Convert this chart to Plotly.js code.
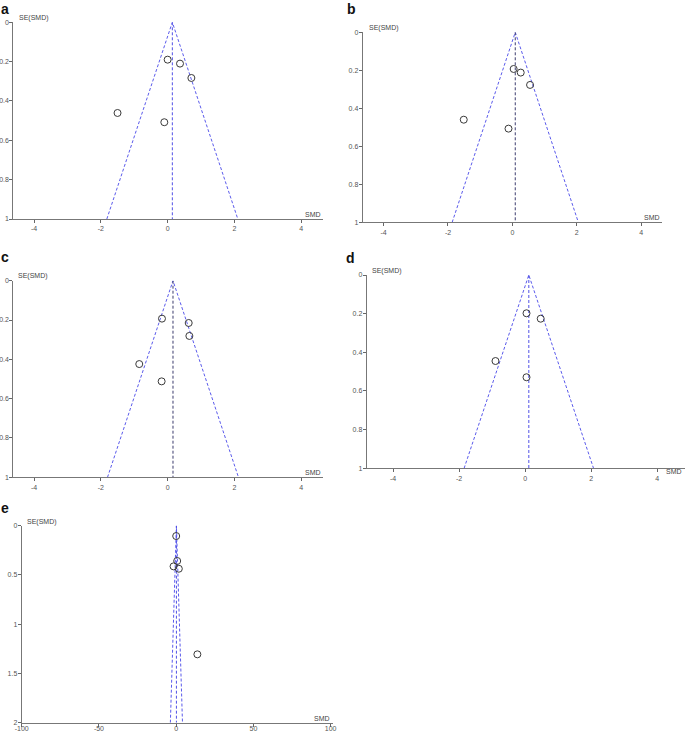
<!DOCTYPE html>
<html><head><meta charset="utf-8">
<script src="https://cdn.plot.ly/plotly-3.0.1.min.js"></script>
<style>html,body{margin:0;padding:0;background:#fff}#chart{width:685px;height:732px}</style>
</head><body><div id="chart"></div>
<script>
// ---- data ----
const panelLetters = ["a", "b", "c", "d", "e"];
const aSMD = [0.00, 0.37, 0.71, -1.50, -0.10];
const aSE  = [0.190, 0.210, 0.283, 0.461, 0.508];
const aCenter = 0.14;
const bSMD = [0.04, 0.26, 0.55, -1.51, -0.12];
const bSE  = [0.193, 0.212, 0.277, 0.460, 0.507];
const bCenter = 0.09;
const cSMD = [-0.17, 0.63, 0.65, -0.85, -0.18];
const cSE  = [0.193, 0.215, 0.281, 0.424, 0.512];
const cCenter = 0.16;
const dSMD = [0.04, 0.47, -0.90, 0.04];
const dSE  = [0.198, 0.226, 0.445, 0.529];
const dCenter = 0.11;
const eSMD = [0.0, 0.64, -1.7, 1.7, 13.7];
const eSE  = [0.105, 0.358, 0.413, 0.437, 1.306];
const eCenter = 0.15;
const seMaxSmall = 1;
const seMaxLarge = 2;
const xTicksSmall = [-4, -2, 0, 2, 4];
const yTicksSmall = [0, 0.2, 0.4, 0.6, 0.8, 1];
const xTicksLarge = [-100, -50, 0, 50, 100];
const yTicksLarge = [0, 0.5, 1, 1.5, 2];
const xLabel = "SMD";
const yLabel = "SE(SMD)";

// ---- layout helpers ----
const W = 685, H = 732;
const px = v => v / W;
const py = v => 1 - v / H;

const panels = [
  {smd: aSMD, se: aSE, c: aCenter, seMax: seMaxSmall, x0: 13.3, x1: 323, y0: 22.3, y1: 219, xr: [-4.62, 4.65], xt: xTicksSmall, yt: yTicksSmall, vcol: "rgb(80,80,230)", letter: [0, 0], ylab: [16.5, 17.5], xlab: [323, 214.5], xso: 0},
  {smd: bSMD, se: bSE, c: bCenter, seMax: seMaxSmall, x0: 362.7, x1: 661.7, y0: 32.3, y1: 222.3, xr: [-4.65, 4.64], xt: xTicksSmall, yt: yTicksSmall, vcol: "rgb(60,60,110)", letter: [346, 0], ylab: [366.5, 28.5], xlab: [662, 217.5], xso: 0},
  {smd: cSMD, se: cSE, c: cCenter, seMax: seMaxSmall, x0: 13.3, x1: 323, y0: 280.7, y1: 477.3, xr: [-4.62, 4.65], xt: xTicksSmall, yt: yTicksSmall, vcol: "rgb(60,60,110)", letter: [0, 248], ylab: [16, 275.5], xlab: [323, 472.5], xso: 0},
  {smd: dSMD, se: dSE, c: dCenter, seMax: seMaxSmall, x0: 366.7, x1: 685, y0: 275, y1: 468.3, xr: [-4.8, 4.84], xt: xTicksSmall, yt: yTicksSmall, vcol: "rgb(80,80,230)", letter: [345, 249], ylab: [370, 271], xlab: [684, 471.5], xso: 0},
  {smd: eSMD, se: eSE, c: eCenter, seMax: seMaxLarge, x0: 21.7, x1: 333, y0: 525.7, y1: 722.7, xr: [-100, 101.5], xt: xTicksLarge, yt: yTicksLarge, vcol: "rgb(80,80,230)", letter: [0, 499], ylab: [25, 521.5], xlab: [332, 718], xso: -4}
];

const traces = [];
const layout = {
  width: W, height: H,
  margin: {l: 0, r: 0, t: 0, b: 0},
  paper_bgcolor: "#fff", plot_bgcolor: "#fff",
  showlegend: false,
  font: {family: "Arial, Liberation Sans, sans-serif", size: 7, color: "#444"},
  annotations: []
};
const funnelCol = "rgb(90,90,235)";
const dashPat = "3px,2px";

panels.forEach((p, i) => {
  const n = i === 0 ? "" : String(i + 1);
  const xa = "x" + n, ya = "y" + n;
  traces.push({
    x: [p.c - 1.96 * p.seMax, p.c, p.c + 1.96 * p.seMax],
    y: [p.seMax, 0, p.seMax],
    xaxis: xa, yaxis: ya, mode: "lines", hoverinfo: "skip",
    line: {color: funnelCol, width: 1, dash: dashPat}
  });
  traces.push({
    x: [p.c, p.c], y: [0, p.seMax],
    xaxis: xa, yaxis: ya, mode: "lines", hoverinfo: "skip",
    line: {color: p.vcol, width: 1, dash: dashPat}
  });
  traces.push({
    x: p.smd, y: p.se, xaxis: xa, yaxis: ya, mode: "markers",
    marker: {symbol: "circle-open", size: 7, color: "#3a3a3a", line: {width: 1, color: "#3a3a3a"}}
  });
  const common = {
    showgrid: false, zeroline: false, showline: true, linecolor: "#777", linewidth: 1,
    ticks: "outside", ticklen: 3, tickcolor: "#666", tickwidth: 1,
    tickfont: {size: 7, color: "#555", family: "Arial, Liberation Sans, sans-serif"},
    fixedrange: true
  };
  layout["xaxis" + n] = Object.assign({}, common, {
    domain: [px(p.x0), px(p.x1)], range: p.xr, anchor: ya,
    tickmode: "array", tickvals: p.xt, ticktext: p.xt.map(String),
    ticklabelstandoff: p.xso
  });
  layout["yaxis" + n] = Object.assign({}, common, {
    domain: [py(p.y1), py(p.y0)], range: [p.seMax, 0], anchor: xa,
    tickmode: "array", tickvals: p.yt, ticktext: p.yt.map(String),
    ticklabelstandoff: -1
  });
  layout.annotations.push({
    xref: "paper", yref: "paper", x: px(p.letter[0]), y: py(p.letter[1]),
    xanchor: "left", yanchor: "top", showarrow: false,
    text: "<b>" + panelLetters[i] + "</b>", borderpad: 0,
    font: {size: 14, color: "#111", family: "Arial, Liberation Sans, sans-serif"}
  });
  layout.annotations.push({
    xref: "paper", yref: "paper", x: px(p.ylab[0]), y: py(p.ylab[1]),
    xanchor: "left", yanchor: "middle", showarrow: false, text: yLabel,
    font: {size: 7, color: "#444"}
  });
  layout.annotations.push({
    xref: "paper", yref: "paper", x: px(p.xlab[0]), y: py(p.xlab[1]),
    xanchor: "right", yanchor: "middle", showarrow: false, text: xLabel,
    font: {size: 7, color: "#444"}
  });
});

Plotly.newPlot("chart", traces, layout, {staticPlot: true});
</script></body></html>
